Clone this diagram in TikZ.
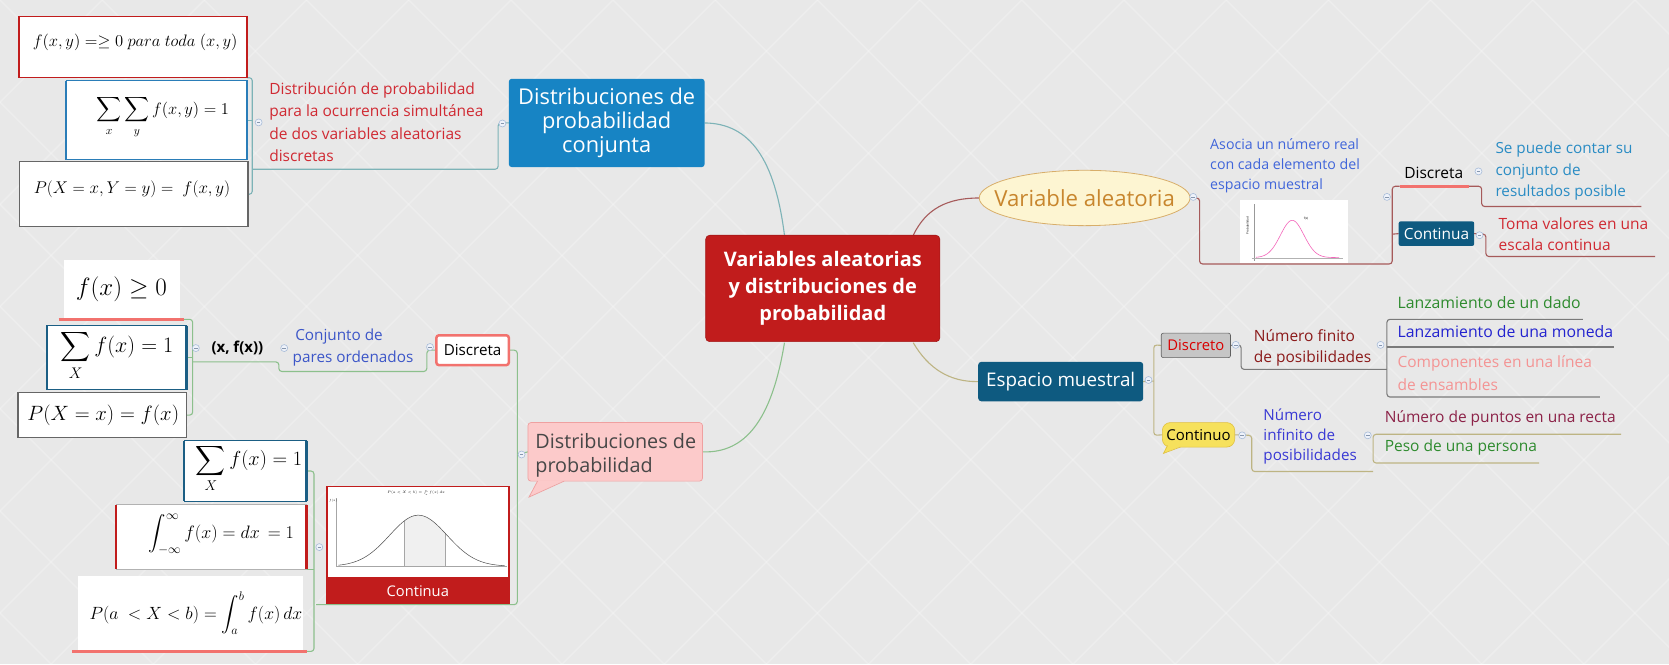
\documentclass[tikz,border=0pt]{standalone}
\usepackage{fix-cm}
\usepackage{amsmath}
\usepackage{fontspec}
\setmainfont{Open Sans}
\usetikzlibrary{fit,calc,shapes.geometric}
\pgfdeclarelayer{back}
\pgfdeclarelayer{lines}
\pgfsetlayers{back,lines,main}
\definecolor{bgc}{HTML}{E8E8E8}
\definecolor{cred}{HTML}{C11C1C}
\definecolor{cblue}{HTML}{1784C4}
\definecolor{cteal}{HTML}{0E5A80}
\definecolor{cpink}{HTML}{FCCACA}
\definecolor{cpinkb}{HTML}{EFA0A0}
\definecolor{salmon}{HTML}{F2726E}
\definecolor{txtred}{HTML}{D02A33}
\definecolor{lteal}{HTML}{7DB3B7}
\definecolor{lgreen}{HTML}{8CC08C}
\definecolor{lmaroon}{HTML}{A65A5A}
\definecolor{lolive}{HTML}{BDB483}
\definecolor{lgray}{HTML}{7A7A7A}
\definecolor{bluetxt}{HTML}{3C56C8}
\definecolor{asblue}{HTML}{4065DA}
\definecolor{seblue}{HTML}{2A8CC4}
\definecolor{darkred}{HTML}{8B1A1A}
\definecolor{gtxt}{HTML}{2E8B2E}
\definecolor{btxt}{HTML}{2323CF}
\definecolor{ptxt}{HTML}{F49494}
\definecolor{mtxt}{HTML}{8C2248}
\definecolor{vatxt}{HTML}{C8862E}
\definecolor{vafill}{HTML}{FDF5D2}
\definecolor{vadraw}{HTML}{D8AE6A}
\definecolor{yfill}{HTML}{F6E15C}
\definecolor{ydraw}{HTML}{E0C040}
\definecolor{btnb}{HTML}{A8BCD8}
\definecolor{btnf}{HTML}{EEF2FA}
\definecolor{boxblue}{HTML}{1B5E84}
\definecolor{boxblue2}{HTML}{2A7DB8}
\tikzset{
  every node/.style={inner sep=0pt, outer sep=0pt},
  fs/.style={font=\fontsize{#1}{#1}\selectfont},
  ml/.style 2 args={align=left, anchor=north west, font=\fontsize{#1}{#2}\selectfont},
  sl/.style={anchor=west, font=\fontsize{#1}{#1}\selectfont, text height=0.72em, text depth=0.2em},
  box/.style={draw=#1, fill=white, line width=0.8},
  cn/.style={draw=#1, line width=1.1, rounded corners=3},
  ul/.style={draw=salmon, line width=3},
  btn/.style={circle, draw=btnb, fill=btnf, minimum size=7pt, line width=0.6,
    path picture={\draw[btnb!80!black, line width=0.5] ([xshift=-1.8pt]path picture bounding box.center) -- ([xshift=1.8pt]path picture bounding box.center);}},
}
\begin{document}
\begin{tikzpicture}[x=1.0644pt,y=-1.0644pt]
\useasboundingbox (0,0) rectangle (1568,624);
\begin{pgfonlayer}{back}
\fill[bgc] (0,0) rectangle (1568,624);
\begin{scope}
\clip (0,0) rectangle (1568,624);
\foreach \i in {-672,-576,...,2240}{
  \draw[white,opacity=0.22,line width=1.6] (\i,0) -- ++(624,624);
  \draw[white,opacity=0.22,line width=1.6] (\i,0) -- ++(-624,624);
}
\end{scope}
\end{pgfonlayer}

% ---------------- central node ----------------
\node[fit={(663,221)(883,321)}, fill=cred, draw=cred!85!black, rounded corners=4, line width=0.6] (center) {};
\node[align=center, text=white, font=\fontsize{20}{27}\selectfont\bfseries] (centert) at (773,271) {Variables aleatorias\\y distribuciones de\\probabilidad};

% ---------------- conjunta cluster ----------------
\node[fit={(478,74)(662,157)}, fill=cblue, rounded corners=3] (conj) {};
\node[align=center, text=white, font=\fontsize{21.8}{24}\selectfont] (conjt) at (570,115) {Distribuciones de\\probabilidad\\conjunta};
\node[ml={15.5}{22.4}, text=txtred] (dprob) at (253,77.5) {Distribución de probabilidad\\para la ocurrencia simultánea\\de dos variables aleatorias\\discretas};
\coordinate (dpl) at (237,159);
\coordinate (dpr) at (468,159);
\node[btn] (btn1) at (472,116) {};
\node[btn] (btn2) at (243,115) {};

\node[fit={(18,15)(232,73)}, box=cred] (b1) {};
\draw[cred, line width=2.5] (b1.north west) -- (b1.south west) (b1.north east) -- (b1.south east);
\node[fs=16.6] (b1t) at (127,40) {$f(x,y) = \geq 0\ para\ toda\ (x,y)$};
\node[fit={(62,76)(232,150)}, box=boxblue2] (b2) {};
\draw[boxblue2, line width=2.5] (b2.north west) -- (b2.south west) (b2.north east) -- (b2.south east);
\node[fs=16.5] (b2t) at (153,110) {$\displaystyle\sum_x\sum_y f(x,y) = 1$};
\node[fit={(18,152)(233,213)}, box=gray!80!black, line width=1.2] (b3) {};
\node[fs=17] (b3t) at (124,178) {$P(X = x, Y = y) =\ f(x,y)$};

% ---------------- distribuciones de probabilidad cluster ----------------
\node[fit={(496,397)(660,452)}, fill=cpink, draw=cpinkb, rounded corners=3, line width=0.7] (pink) {};
\fill[cpink] (505,451.4) -- (497,467) -- (530,451.4) -- cycle;
\draw[cpinkb, line width=0.7] (505,452) -- (497,467) -- (530,452);
\node[ml={19.8}{24.5}, text=black!72] (pinkt) at (503,407) {Distribuciones de\\probabilidad};
\node[btn] (btn3) at (490,427) {};

\node[fit={(410,315)(478,343)}, fill=white, draw=salmon, line width=2.5, rounded corners=2.5] (disc) {};
\node[fs=15.2] (disct) at (444,329) {Discreta};
\node[ml={15.3}{22.4}, text=bluetxt] (conjunto) at (275,308.5) {\,Conjunto de\\pares ordenados};
\coordinate (cjl) at (262,349);
\coordinate (cjr) at (401,349);
\node[btn] (btn4) at (404,326) {};
\node[font=\fontsize{15}{15}\selectfont\bfseries] (xfx) at (223,327) {(x, f(x))};
\coordinate (xfl) at (181,340);
\coordinate (xfr) at (262,340);
\node[btn] (btn5) at (267,327) {};
\node[btn] (btn6) at (184,327) {};

\node[fit={(60,244)(169,300)}, fill=white] (c1) {};
\node[fs=25] (c1t) at (114,272) {$f(x) \geq 0$};
\draw[ul] (55,300) -- (173,300);
\coordinate (c1r) at (173,300);
\node[fit={(44,306)(175,366)}, box=boxblue] (c2) {};
\draw[boxblue, line width=2.5] (c2.north west) -- (c2.south west) (c2.north east) -- (c2.south east);
\node[fs=22] (c2t) at (110,334) {$\displaystyle\sum_X f(x) = 1$};
\node[fit={(17,369)(175,411)}, box=gray!80!black, line width=1.2] (c3) {};
\node[fs=20.7] (c3t) at (97,390) {$P(X = x) = f(x)$};

\node[fit={(173,414)(288,471)}, box=boxblue] (d1) {};
\draw[boxblue, line width=2.5] (d1.north west) -- (d1.south west) (d1.north east) -- (d1.south east);
\node[fs=20.3] (d1t) at (234,440) {$\displaystyle\sum_X f(x) = 1$};
\node[fit={(109,474)(288,535)}, box=gray!60] (d2) {};
\draw[cred, line width=2.5] (d2.north west) -- (d2.south west) (d2.north east) -- (d2.south east);
\node[fs=18] (d2t) at (208,502) {$\displaystyle\int_{-\infty}^{\infty} f(x) = dx\, = 1$};
\node[fit={(73,541)(285,611)}, fill=white] (d3) {};
\node[fs=17.7] (d3t) at (184,576) {$P(a\ < X < b) = \displaystyle\int_a^b f(x)\,dx$};
\draw[ul] (68,612) -- (288,612);
\coordinate (d3r) at (288,612);
\node[btn] (btn7) at (300,514) {};

% Continua image node
\node[fit={(307,457)(478,567)}, fill=white, draw=cred, line width=1.5] (cont) {};
\fill[cred] (307,542) rectangle (478,567);
\node[fs=14.7, text=white] (contt) at (392.5,555) {Continua};
\fill[gray!12] plot[domain=380:418, samples=30] (\x,{532-48*exp(-((\x-393)/27)^2/2)}) -- (418,532) -- (380,532) -- cycle;
\draw[gray!70, line width=0.4] (316,468) -- (316,532) -- (476,532);
\draw[gray!70, line width=0.4] (380,532) -- (380,{532-48*exp(-((380-393)/27)^2/2)});
\draw[gray!70, line width=0.4] (418,532) -- (418,{532-48*exp(-((418-393)/27)^2/2)});
\draw[black!70, line width=0.5] plot[domain=318:474, samples=80] (\x,{532-48*exp(-((\x-393)/27)^2/2)});
\node[fs=3.5] (contf) at (391,463) {$P(a<X<b)=\int_a^b f(x)\,dx$};
\node[fs=3] (contfx) at (313,470) {$f(x)$};

% ---------------- variable aleatoria ----------------
\node[ellipse, fill=vafill, draw=vadraw, line width=0.8, minimum width=198*1.0644pt, minimum height=52*1.0644pt] (va) at (1019,186) {};
\node[fs=22.2, text=vatxt] (vat) at (1019,186) {Variable aleatoria};
\node[btn] (btn8) at (1121,185) {};
\node[ml={14.2}{20.2}, text=asblue] (asocia) at (1137,130) {Asocia un número real\\con cada elemento del\\espacio muestral};
\node[fit={(1165,188)(1266,247)}, fill=white] (img2) {};
\draw[gray!80, line width=0.4] (1178,192) -- (1178,245);
\draw[gray!60, line width=1] (1176,243) -- (1262,243);
\draw[magenta!60, line width=0.6] plot[domain=1180:1258, samples=60] (\x,{242-35*exp(-((\x-1214)/11)^2/2)});
\node[fs=3] (img2fx) at (1227,205) {f(x)};
\node[fs=3, rotate=90] (img2p) at (1172,212) {Probabilidad};
\node[btn] (btn9) at (1303,185) {};

\node[fs=15.5] (discR) at (1347,162) {Discreta};
\draw[ul] (1315,175) -- (1380,175);
\coordinate (discRl) at (1315,175);
\coordinate (discRr) at (1380,175);
\node[btn] (btn10) at (1389,161) {};
\node[ml={15.3}{21.5}, text=seblue] (sepuede) at (1405,133.5) {Se puede contar su\\conjunto de\\resultados posible};
\node[fit={(1314,208)(1385,231)}, fill=cteal, rounded corners=2] (contR) {};
\node[fs=15.4, text=white] (contRt) at (1349.5,219.5) {Continua};
\node[btn] (btn11) at (1390,221) {};
\node[ml={15.5}{21.3}, text=txtred] (toma) at (1408,204.5) {Toma valores en una\\escala continua};

% ---------------- espacio muestral ----------------
\node[fit={(919,340)(1074,377)}, fill=cteal, rounded corners=3] (esp) {};
\node[fs=18.8, text=white] (espt) at (996.5,358.5) {Espacio muestral};
\node[btn] (btn12) at (1079,357) {};
\node[fit={(1091,313)(1156,336)}, fill=gray!45, draw=gray!75!black, line width=0.6, rounded corners=2] (dis) {};
\node[fs=14.8, text=red!85!black] (dist) at (1123.5,324.5) {Discreto};
\node[btn] (btn13) at (1161,324) {};
\node[ml={15.5}{20.8}, text=darkred] (finito) at (1178,309.5) {Número finito\\de posibilidades};
\node[btn] (btn14) at (1297,324) {};
\node[sl=15.8, text=gtxt] (dado) at (1313,287.5) {Lanzamiento de un dado};
\node[sl=15.8, text=btxt] (moneda) at (1313,315) {Lanzamiento de una moneda};
\node[ml={15.5}{22.6}, text=ptxt] (compo) at (1313,334.5) {Componentes en una línea\\de ensambles};

\node[fit={(1092,397)(1160,420)}, fill=yfill, draw=ydraw, line width=0.6, rounded corners=8] (cno) {};
\fill[yfill] (1097,417) -- (1093,426) -- (1110,419) -- cycle;
\draw[ydraw, line width=0.6] (1097,418.5) -- (1093,426) -- (1109,420);
\node[fs=15] (cnot) at (1126,408.5) {Continuo};
\node[btn] (btn15) at (1167,409) {};
\node[ml={15.2}{19.6}, text=btxt!90!white] (infinito) at (1187,384.5) {Número\\infinito de\\posibilidades};
\node[btn] (btn16) at (1285,409) {};
\node[sl=15.5, text=mtxt] (puntos) at (1301,394.6) {Número de puntos en una recta};
\node[sl=15.5, text=gtxt] (peso) at (1301,422) {Peso de una persona};

% ---------------- connectors ----------------
\begin{pgfonlayer}{lines}
\draw[lteal, line width=1.1] (737,221) .. controls (728,150) and (705,116) .. (conj.east);
\draw[lgreen, line width=1.1] (737,322) .. controls (725,395) and (700,426) .. (pink.east);
\draw[lmaroon, line width=1.1] (858,221) .. controls (870,196) and (890,186) .. (va.west);
\draw[lolive, line width=1.1] (858,322) .. controls (872,346) and (892,359) .. (esp.west);
\draw[cn=lteal] (conj.west) -| (dpr) -- (dpl);
\draw[cn=lteal] (b1.south east) -| (dpl |- b3.east) -- (b3.east);
\draw[cn=lteal] (b2.east) -- (b2.east -| dpl);
\draw[cn=lgreen] (disc.east) -- (486,329) -- (486,568) -- (297,568);
\draw[cn=lgreen] (pink.west) -- (486,427);
\draw[cn=lgreen] (disc.west) -| (cjr) -- (cjl) -- (xfr) -- (xfl);
\draw[cn=lgreen] (c1r) -| (xfl |- c3.east) -- (c3.east);
\draw[cn=lgreen] (c2.east) -- (c2.east -| xfl);
\draw[cn=lgreen] (d1.east) -| (295,612) -- (d3r);
\draw[cn=lgreen] (d2.south west) -- (295,535);
\draw[cn=lmaroon] (va.east) -- (1127,186) -- (1127,248) -- (1308,248) -- (1308,175) -- (discRl);
\draw[cn=lmaroon] (contR.west) -- (1308,220);
\draw[cn=lmaroon] (discRr) -- (1392,175) -- (1392,194) -- (1542,194);
\draw[cn=lmaroon] (contR.east) -- (1396,220) -- (1396,241) -- (1555,241);
\draw[cn=lolive] (esp.east) -- (1084,358);
\draw[cn=lolive] (dis.west) -- (1084,324) -- (1084,409) -- (cno.west);
\draw[cn=lgray] (dis.east) -- (1166,324) -- (1166,347) -- (1303,347);
\draw[cn=lgray] (1487,300) -- (1303,300) -- (1303,373) -- (1503,373);
\draw[cn=lgray] (1303,326) -- (1516,326);
\draw[cn=lolive] (cno.east) -- (1176,409) -- (1176,443) -- (1290,443);
\draw[cn=lolive] (1523,408) -- (1290,408) -- (1290,435) -- (1446,435);
\end{pgfonlayer}
\end{tikzpicture}
\end{document}
